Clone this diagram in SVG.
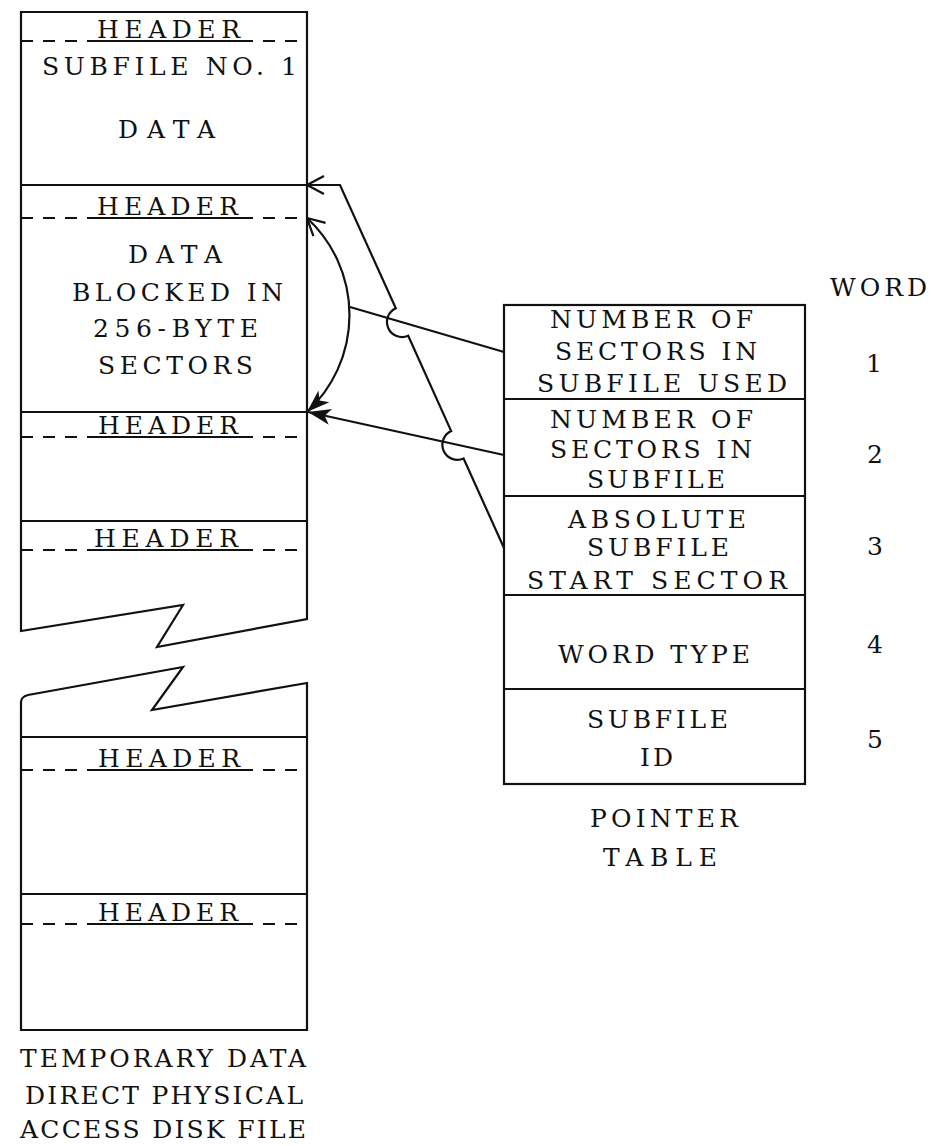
<svg xmlns="http://www.w3.org/2000/svg" width="931" height="1146" viewBox="0 0 931 1146">
  <style>
    .frame { fill: none; stroke: #111; stroke-width: 2.2; stroke-linejoin: miter; }
    .rule { stroke: #111; stroke-width: 2; }
    .dash { stroke: #111; stroke-width: 2; stroke-dasharray: 12 10; }
    .under { stroke: #111; stroke-width: 2.2; }
    .link { fill: none; stroke: #111; stroke-width: 2.2; }
    .t { font-family: "DejaVu Serif", "Liberation Serif", serif; font-size: 25px; fill: #111; }
    .n { font-family: "DejaVu Serif", "Liberation Serif", serif; font-size: 25px; fill: #111; text-anchor: middle; }
  </style>
  <defs>
    <marker id="openHead" viewBox="0 0 20 20" refX="19" refY="10" markerWidth="20" markerHeight="20" markerUnits="userSpaceOnUse" orient="auto-start-reverse">
      <path d="M2,1 L19,10 L2,19" fill="none" stroke="#111" stroke-width="2.2"/>
    </marker>
    <marker id="solidHead" viewBox="0 0 24 20" refX="23" refY="10" markerWidth="24" markerHeight="20" markerUnits="userSpaceOnUse" orient="auto-start-reverse">
      <path d="M0,2 L23,10 L0,18 L6,10 Z" fill="#111"/>
    </marker>
  </defs>
  <rect width="931" height="1146" fill="#fff"/>

  <!-- disk file: upper section (broken at the bottom) -->
  <g id="disk-upper">
    <polygon class="frame" points="21,12 307,12 307,619 157,647 183,605 21,631"/>
  </g>

  <g id="subfile-1">
    <line class="dash" x1="21" y1="41" x2="307" y2="41"/>
    <line class="under" x1="93" y1="41" x2="244" y2="41"/>
    <text class="t" x="97" y="38" textLength="143" lengthAdjust="spacing">HEADER</text>
    <text class="t" x="42" y="75" textLength="255" lengthAdjust="spacing">SUBFILE NO. 1</text>
    <text class="t" x="118" y="138" textLength="97" lengthAdjust="spacing">DATA</text>
  </g>

  <g id="subfile-2">
    <line class="rule" x1="21" y1="185" x2="307" y2="185"/>
    <line class="dash" x1="21" y1="218" x2="307" y2="218"/>
    <line class="under" x1="93" y1="218" x2="244" y2="218"/>
    <text class="t" x="97" y="215" textLength="141" lengthAdjust="spacing">HEADER</text>
    <text class="t" x="128" y="263" textLength="94" lengthAdjust="spacing">DATA</text>
    <text class="t" x="72" y="301" textLength="211" lengthAdjust="spacing">BLOCKED IN</text>
    <text class="t" x="93" y="337" textLength="165" lengthAdjust="spacing">256-BYTE</text>
    <text class="t" x="98" y="374" textLength="155" lengthAdjust="spacing">SECTORS</text>
  </g>

  <g id="subfile-3">
    <line class="rule" x1="21" y1="412" x2="307" y2="412"/>
    <line class="dash" x1="21" y1="437" x2="307" y2="437"/>
    <line class="under" x1="94" y1="437" x2="242" y2="437"/>
    <text class="t" x="98" y="434" textLength="140" lengthAdjust="spacing">HEADER</text>
  </g>

  <g id="subfile-4">
    <line class="rule" x1="21" y1="521" x2="307" y2="521"/>
    <line class="dash" x1="21" y1="550" x2="307" y2="550"/>
    <line class="under" x1="91" y1="550" x2="242" y2="550"/>
    <text class="t" x="94" y="547" textLength="144" lengthAdjust="spacing">HEADER</text>
  </g>

  <!-- disk file: lower section (broken at the top) -->
  <g id="disk-lower">
    <path class="frame" d="M21,1030 L21,702 Q21,697 28,695 L183,667 L152,710 L307,683 L307,1030 Z"/>
  </g>

  <g id="subfile-n">
    <line class="rule" x1="21" y1="737" x2="307" y2="737"/>
    <line class="dash" x1="21" y1="770" x2="307" y2="770"/>
    <line class="under" x1="94" y1="770" x2="244" y2="770"/>
    <text class="t" x="98" y="767" textLength="142" lengthAdjust="spacing">HEADER</text>
  </g>

  <g id="subfile-n1">
    <line class="rule" x1="21" y1="894" x2="307" y2="894"/>
    <line class="dash" x1="21" y1="924" x2="307" y2="924"/>
    <line class="under" x1="94" y1="924" x2="242" y2="924"/>
    <text class="t" x="98" y="921" textLength="140" lengthAdjust="spacing">HEADER</text>
  </g>

  <g id="disk-caption">
    <text class="t" x="20" y="1067" textLength="286" lengthAdjust="spacing">TEMPORARY DATA</text>
    <text class="t" x="25" y="1104" textLength="278" lengthAdjust="spacing">DIRECT PHYSICAL</text>
    <text class="t" x="20" y="1138" textLength="286" lengthAdjust="spacing">ACCESS DISK FILE</text>
  </g>

  <!-- pointer table -->
  <g id="pointer-table">
    <rect class="frame" x="504" y="305" width="301" height="479"/>
  </g>

  <g id="word-1">
    <text class="t" x="550" y="328" textLength="203" lengthAdjust="spacing">NUMBER OF</text>
    <text class="t" x="555" y="360" textLength="202" lengthAdjust="spacing">SECTORS IN</text>
    <text class="t" x="537" y="392" textLength="250" lengthAdjust="spacing">SUBFILE USED</text>
  </g>

  <g id="word-2">
    <line class="rule" x1="504" y1="399" x2="805" y2="399"/>
    <text class="t" x="550" y="428" textLength="203" lengthAdjust="spacing">NUMBER OF</text>
    <text class="t" x="550" y="458" textLength="202" lengthAdjust="spacing">SECTORS IN</text>
    <text class="t" x="587" y="488" textLength="138" lengthAdjust="spacing">SUBFILE</text>
  </g>

  <g id="word-3">
    <line class="rule" x1="504" y1="496" x2="805" y2="496"/>
    <text class="t" x="568" y="528" textLength="178" lengthAdjust="spacing">ABSOLUTE</text>
    <text class="t" x="587" y="556" textLength="142" lengthAdjust="spacing">SUBFILE</text>
    <text class="t" x="527" y="589" textLength="260" lengthAdjust="spacing">START SECTOR</text>
  </g>

  <g id="word-4">
    <line class="rule" x1="504" y1="595" x2="805" y2="595"/>
    <text class="t" x="558" y="663" textLength="192" lengthAdjust="spacing">WORD TYPE</text>
  </g>

  <g id="word-5">
    <line class="rule" x1="504" y1="689" x2="805" y2="689"/>
    <text class="t" x="587" y="728" textLength="141" lengthAdjust="spacing">SUBFILE</text>
    <text class="t" x="640" y="766" textLength="33" lengthAdjust="spacing">ID</text>
  </g>

  <g id="table-caption">
    <text class="t" x="590" y="827" textLength="148" lengthAdjust="spacing">POINTER</text>
    <text class="t" x="603" y="866" textLength="114" lengthAdjust="spacing">TABLE</text>
  </g>

  <g id="word-numbers">
    <text class="t" x="830" y="296" textLength="97" lengthAdjust="spacing">WORD</text>
    <text class="n" x="874" y="372">1</text>
    <text class="n" x="875" y="463">2</text>
    <text class="n" x="875" y="555">3</text>
    <text class="n" x="875" y="653">4</text>
    <text class="n" x="875" y="748">5</text>
  </g>

  <!-- connectors -->
  <g id="connectors">
    <!-- word 3: start sector, hops over the other two links -->
    <path class="link" marker-end="url(#openHead)" d="M504,548 L463.6,458.5 A15,15 0 0 1 451.2,431.1 L408.2,335.7 A15,15 0 0 1 395.8,308.3 L340,185 L307,185"/>
    <!-- word 1: sectors used, spanning the data block -->
    <path class="link" d="M504,352 L350,307"/>
    <path class="link" marker-start="url(#openHead)" marker-end="url(#solidHead)" d="M307,218 A132,132 0 0 1 307,412"/>
    <!-- word 2: sectors in subfile -->
    <path class="link" marker-end="url(#solidHead)" d="M504,455 L308,412"/>
  </g>
</svg>
